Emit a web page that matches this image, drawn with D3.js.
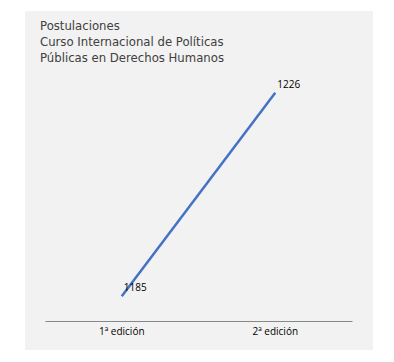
<!DOCTYPE html>
<html><head><meta charset="utf-8">
<script src="https://cdn.jsdelivr.net/npm/d3@7"></script>
<style>html,body{margin:0;padding:0;background:#fff;}</style>
</head><body>
<script>
const categories = ["1ª edición", "2ª edición"];
const values = [1185, 1226];
const titleLines = ["Postulaciones", "Curso Internacional de Políticas", "Públicas en Derechos Humanos"];

const W = 394, H = 362;
const svg = d3.select("body").append("svg").attr("width", W).attr("height", H);
svg.append("rect").attr("x", 25).attr("y", 11).attr("width", 348).attr("height", 339).attr("fill", "#f2f2f2");

const x = d3.scaleBand().domain(categories).range([45, 352]);
const y = d3.scaleLinear().domain([1180, 1230]).range([321, 73]);

svg.append("g").selectAll("text").data(titleLines).join("text")
  .attr("x", 40).attr("y", (d, i) => 30 + i * 16)
  .attr("font-family", "DejaVu Sans").attr("font-size", 11.7).attr("fill", "#404040")
  .text(d => d);

const ax = svg.append("g").attr("transform", "translate(0,321)")
  .call(d3.axisBottom(x).tickSize(0).tickPadding(7));
ax.select(".domain").attr("stroke", "#888").attr("stroke-width", 1);
ax.selectAll("text").attr("font-family", "Open Sans").attr("font-size", 10).attr("fill", "#000");

const line = d3.line().x((d, i) => x(categories[i]) + x.bandwidth() / 2).y(d => y(d));
svg.append("path").datum(values).attr("d", line)
  .attr("fill", "none").attr("stroke", "#4472c4").attr("stroke-width", 2.5);

svg.append("g").selectAll("text").data(values).join("text")
  .attr("x", (d, i) => x(categories[i]) + x.bandwidth() / 2 + 2)
  .attr("y", d => y(d) - 5)
  .attr("font-family", "Open Sans").attr("font-size", 10).attr("fill", "#000")
  .text(d => d);
</script>
</body></html>
